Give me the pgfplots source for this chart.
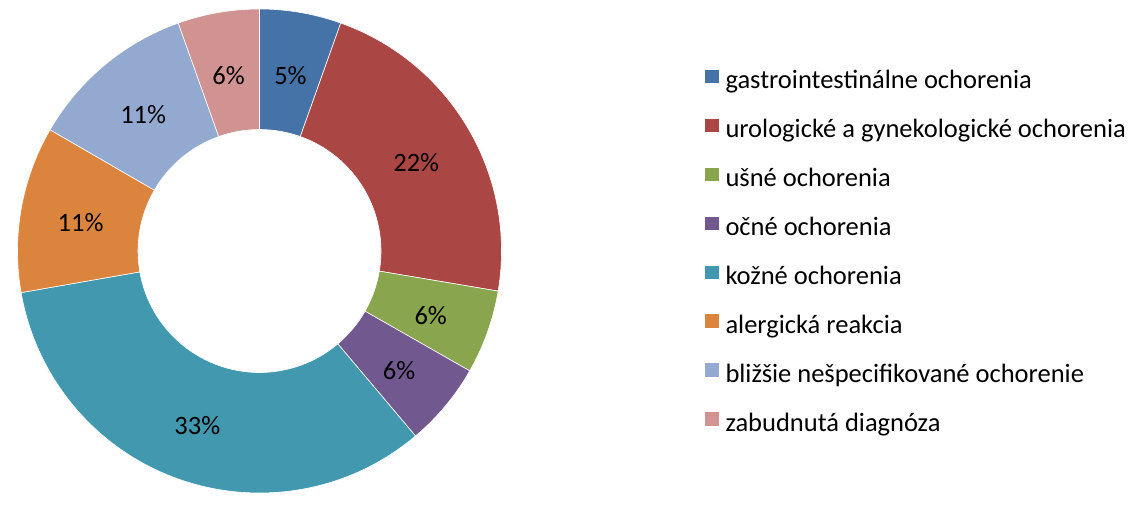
\documentclass[border=0pt]{standalone}
\usepackage{fontspec}
\setmainfont{Carlito}
\usepackage{pgfplots}
\pgfplotsset{compat=1.18}

\definecolor{cGastro}{HTML}{4572A7}
\definecolor{cUro}{HTML}{AA4643}
\definecolor{cUsne}{HTML}{89A54E}
\definecolor{cOcne}{HTML}{71588F}
\definecolor{cKozne}{HTML}{4198AF}
\definecolor{cAlerg}{HTML}{DB843D}
\definecolor{cBlizsie}{HTML}{93A9CF}
\definecolor{cZabud}{HTML}{D19392}

\newcommand\chartfont{\fontsize{26.5}{30}\selectfont}

% one ring slice: cumulative start %, cumulative end %, colour, label
\newcommand\donutslice[4]{%
  \fill[#3, draw=white, line width=0.6pt, shift={(axis cs:259.5,243)}]
    ({90-3.6*#1}:242pt) arc[start angle={90-3.6*#1}, end angle={90-3.6*#2}, radius=242pt]
    -- ({90-3.6*#2}:121.5pt) arc[start angle={90-3.6*#2}, end angle={90-3.6*#1}, radius=121.5pt]
    -- cycle;
  \node[font=\chartfont, text=black, shift={(axis cs:259.5,243)}, yshift=-3.5pt]
    at ({90-1.8*(#1+#2)}:181.75pt) {#4};
}

\begin{document}
\begin{tikzpicture}
\begin{axis}[
  scale only axis, width=1135pt, height=494pt,
  xmin=0, xmax=1135, ymin=0, ymax=494,
  hide axis, clip=false,
  legend image code/.code={\fill[#1, draw=none] (0pt,-1pt) rectangle (13.3pt,12.3pt);},
  legend style={at={(axis cs:705,424.5)}, anchor=north west, draw=none, fill=none,
    inner sep=0pt, font=\chartfont, row sep=23.9pt, column sep=7pt,
    nodes={inner sep=0pt, text height=19pt, text depth=6pt}},
  legend cell align=left,
]
% keep the whole chart area in the picture
\path (rel axis cs:0,0) rectangle (rel axis cs:1,1);
% slices, in per cent of the whole, clockwise from 12 o'clock
\donutslice{0}{5.45}{cGastro}{5\%}
\donutslice{5.45}{27.65}{cUro}{22\%}
\donutslice{27.65}{33.25}{cUsne}{6\%}
\donutslice{33.25}{38.85}{cOcne}{6\%}
\donutslice{38.85}{72.25}{cKozne}{33\%}
\donutslice{72.25}{83.35}{cAlerg}{11\%}
\donutslice{83.35}{94.55}{cBlizsie}{11\%}
\donutslice{94.55}{100}{cZabud}{6\%}

\addlegendimage{fill=cGastro}\addlegendentry{gastrointestinálne ochorenia}
\addlegendimage{fill=cUro}\addlegendentry{urologické a gynekologické ochorenia}
\addlegendimage{fill=cUsne}\addlegendentry{ušné ochorenia}
\addlegendimage{fill=cOcne}\addlegendentry{očné ochorenia}
\addlegendimage{fill=cKozne}\addlegendentry{kožné ochorenia}
\addlegendimage{fill=cAlerg}\addlegendentry{alergická reakcia}
\addlegendimage{fill=cBlizsie}\addlegendentry{bližšie nešpecifikované ochorenie}
\addlegendimage{fill=cZabud}\addlegendentry{zabudnutá diagnóza}
\end{axis}
\end{tikzpicture}
\end{document}
